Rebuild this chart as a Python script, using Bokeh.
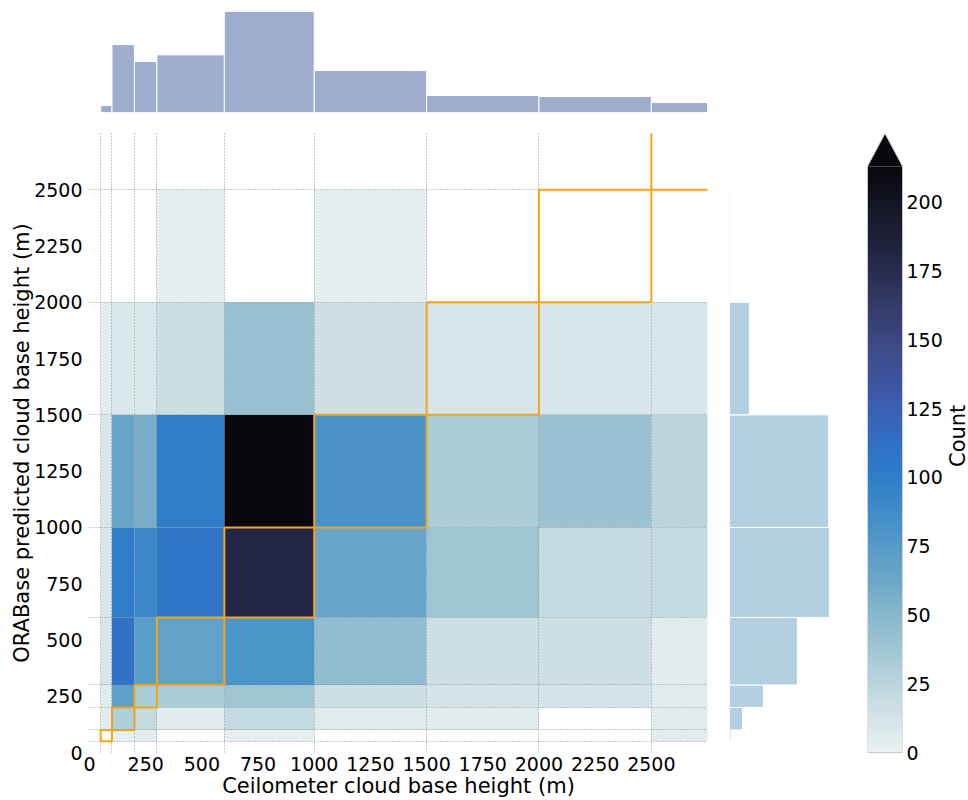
import math
import numpy as np
from bokeh.plotting import figure
from bokeh.models import ColumnDataSource, LinearColorMapper, FixedTicker, Range1d
from bokeh.layouts import row, column
from bokeh.transform import transform
from bokeh.embed import file_html
from bokeh.resources import INLINE

# ---------------- data ----------------
# bin edges in metres (last bin runs beyond the 2750 m axis limit)
x_edges = [50, 100, 200, 300, 600, 1000, 1500, 2000, 2500, 3000]
y_edges = [50, 100, 200, 300, 600, 1000, 1500, 2000, 2500, 3000]
axis_ticks = [0, 250, 500, 750, 1000, 1250, 1500, 1750, 2000, 2250, 2500]
cbar_ticks = [0, 25, 50, 75, 100, 125, 150, 175, 200]
axis_max = 2750
count_max = 213  # colour scale upper limit (extended above)

# counts per cell: one list per ORABase bin (bottom to top), entries = ceilometer bins (left to right)
row_50_100 = [0, 2, 4, 0, 3, 0, 0, 0, 5]
row_100_200 = [5, 30, 20, 4, 20, 6, 5, 0, 5]
row_200_300 = [5, 70, 32, 32, 38, 17, 12, 12, 5]
row_300_600 = [10, 110, 72, 68, 80, 45, 17, 17, 5]
row_600_1000 = [10, 100, 90, 105, 180, 65, 38, 20, 20]
row_1000_1500 = [10, 66, 58, 100, 218, 82, 32, 40, 25]
row_1500_2000 = [4, 9, 9, 18, 42, 15, 11, 10, 10]
row_2000_2500 = [0, 0, 0, 3, 0, 3, 0, 0, 0]
row_2500_up = [0, 0, 0, 0, 0, 0, 0, 0, 0]
count_rows = [row_50_100, row_100_200, row_200_300, row_300_600, row_600_1000,
              row_1000_1500, row_1500_2000, row_2000_2500, row_2500_up]

# marginal histograms (counts)
ceilometer_totals = [40, 390, 293, 331, 580, 241, 98, 92, 57]
orabase_totals = [9, 82, 214, 428, 630, 625, 126, 4, 0]

# ---------------- colour map ----------------
stops = [0, 12, 25, 37, 50, 62, 75, 87, 100, 112, 125, 137, 150, 162, 175, 187, 200, 213]
stop_rgb = [(233, 241, 242), (212, 228, 232), (186, 213, 220), (160, 198, 212), (135, 183, 204),
            (110, 168, 200), (85, 155, 200), (65, 140, 200), (47, 125, 200), (48, 112, 196),
            (58, 96, 180), (62, 82, 155), (60, 72, 130), (52, 60, 105), (40, 45, 80),
            (30, 32, 55), (20, 21, 35), (8, 8, 14)]
vals = np.linspace(0, stops[-1], 256)
arr = np.array(stop_rgb, dtype=float)
palette = []
for v in vals:
    r = int(round(np.interp(v, stops, arr[:, 0])))
    g = int(round(np.interp(v, stops, arr[:, 1])))
    b = int(round(np.interp(v, stops, arr[:, 2])))
    palette.append("#%02x%02x%02x" % (r, g, b))
mapper = LinearColorMapper(palette=palette, low=0, high=count_max, high_color=palette[-1])

FONT = "DejaVu Sans"
TICK_SIZE = "19px"
LABEL_SIZE = "21px"
BOTTOM = 48
FRAME_H = 619

# ---------------- main heat map ----------------
left, right, bottom, top, cnt = [], [], [], [], []
for i, rvals in enumerate(count_rows):
    for j, c in enumerate(rvals):
        if c > 0:
            left.append(x_edges[j]); right.append(x_edges[j + 1])
            bottom.append(y_edges[i]); top.append(y_edges[i + 1])
            cnt.append(c)
src = ColumnDataSource(dict(left=left, right=right, bottom=bottom, top=top, count=cnt))

xr = Range1d(0, axis_max)
yr = Range1d(0, axis_max)

main = figure(frame_width=618, frame_height=FRAME_H, x_range=xr, y_range=yr,
              output_backend="svg", toolbar_location=None,
              min_border_left=89, min_border_right=22, min_border_top=0, min_border_bottom=BOTTOM,
              background_fill_color="white", border_fill_color="white")
main.outline_line_color = None
main.quad(left="left", right="right", bottom="bottom", top="top", source=src,
          fill_color=transform("count", mapper), line_color=None)

# outlines of the diagonal (matching) bins; the open last bin is cut at the axis limit
box_xs, box_ys = [], []
for i in range(len(x_edges) - 1):
    x0, x1 = x_edges[i], x_edges[i + 1]
    y0, y1 = y_edges[i], y_edges[i + 1]
    if x1 <= axis_max and y1 <= axis_max:
        box_xs.append([x0, x1, x1, x0, x0])
        box_ys.append([y0, y0, y1, y1, y0])
    else:
        box_xs.append([x0, x0, min(x1, axis_max)])
        box_ys.append([min(y1, axis_max), y0, y0])
main.multi_line(xs=box_xs, ys=box_ys, line_color="#f5a31a", line_width=2, level="annotation")

for ax in (main.xaxis, main.yaxis):
    ax.ticker = FixedTicker(ticks=axis_ticks)
    ax.axis_line_color = None
    ax.major_tick_line_color = None
    ax.minor_tick_line_color = None
    ax.major_tick_out = 0
    ax.major_tick_in = 0
    ax.major_label_text_font = FONT
    ax.major_label_text_font_size = TICK_SIZE
    ax.major_label_text_color = "black"
    ax.axis_label_text_font = FONT
    ax.axis_label_text_font_size = LABEL_SIZE
    ax.axis_label_text_font_style = "normal"
    ax.axis_label_text_color = "black"
main.xaxis.axis_label = "Ceilometer cloud base height (m)"
main.yaxis.axis_label = "ORABase predicted cloud base height (m)"
main.xaxis.major_label_standoff = 4
main.yaxis.major_label_standoff = 7
main.xaxis.axis_label_standoff = 0
main.yaxis.axis_label_standoff = -3

main.xgrid.ticker = FixedTicker(ticks=x_edges[:-1])
main.ygrid.ticker = FixedTicker(ticks=y_edges[:-1])
for g in (main.xgrid, main.ygrid):
    g.grid_line_color = "#7a7a7a"
    g.grid_line_dash = "1 2"
    g.grid_line_width = 1
    g.grid_line_alpha = 0.8
    g.level = "guide"

# ---------------- top marginal ----------------
topf = figure(frame_width=618, frame_height=101, x_range=xr, y_range=Range1d(0, max(ceilometer_totals)),
              output_backend="svg", toolbar_location=None,
              min_border_left=89, min_border_right=0, min_border_top=11, min_border_bottom=21)
topf.quad(left=x_edges[:-1], right=x_edges[1:], bottom=0, top=ceilometer_totals,
          fill_color="#9eacce", line_color="white", line_width=1)
topf.axis.visible = False
topf.grid.visible = False
topf.outline_line_color = None

# ---------------- right marginal ----------------
rightf = figure(frame_width=100, frame_height=FRAME_H, x_range=Range1d(0, max(orabase_totals)), y_range=yr,
                output_backend="svg", toolbar_location=None,
                min_border_left=0, min_border_right=0, min_border_top=0, min_border_bottom=BOTTOM)
rightf.quad(left=0, right=orabase_totals, bottom=y_edges[:-1], top=y_edges[1:],
            fill_color="#b3d0e1", line_color="white", line_width=1)
rightf.axis.visible = False
rightf.grid.visible = False
rightf.outline_line_color = None

# ---------------- colour bar ----------------
extend_top = count_max * 1.056
px_per_unit = FRAME_H / extend_top
cb_pad = BOTTOM / px_per_unit  # empty range below 0 so the frame reaches the page bottom
cb = figure(frame_width=35, frame_height=FRAME_H + BOTTOM, x_range=Range1d(0, 1),
            y_range=Range1d(-cb_pad, extend_top),
            y_axis_location="right", output_backend="svg", toolbar_location=None,
            min_border_left=38, min_border_right=64, min_border_top=0, min_border_bottom=0)
grad = np.linspace(0, count_max, 512).reshape(512, 1)
cb.image(image=[grad], x=0, y=0, dw=1, dh=count_max, color_mapper=mapper)
cb.patch(x=[0, 1, 0.5], y=[count_max, count_max, extend_top], fill_color=palette[-1], line_color=None)
cb.line(x=[0, 0, 0.5, 1, 1, 0], y=[0, count_max, extend_top, count_max, 0, 0], line_color="#c8c8c8", line_width=1)
cb.xaxis.visible = False
cb.grid.visible = False
cb.outline_line_color = None
ya = cb.yaxis
ya.ticker = FixedTicker(ticks=cbar_ticks)
ya.axis_line_color = None
ya.major_tick_line_color = None
ya.minor_tick_line_color = None
ya.major_tick_out = 0
ya.major_tick_in = 0
ya.major_label_standoff = 4
ya.major_label_text_font = FONT
ya.major_label_text_font_size = TICK_SIZE
ya.major_label_text_color = "black"
ya.axis_label = "Count"
ya.axis_label_text_font = FONT
ya.axis_label_text_font_size = LABEL_SIZE
ya.axis_label_text_font_style = "normal"
ya.axis_label_text_color = "black"
ya.axis_label_orientation = math.pi / 2
ya.axis_label_text_align = "center"
ya.axis_label_standoff = 12

layout = column(topf, row(main, rightf, cb))
open("out.html", "w").write(file_html(layout, INLINE))
